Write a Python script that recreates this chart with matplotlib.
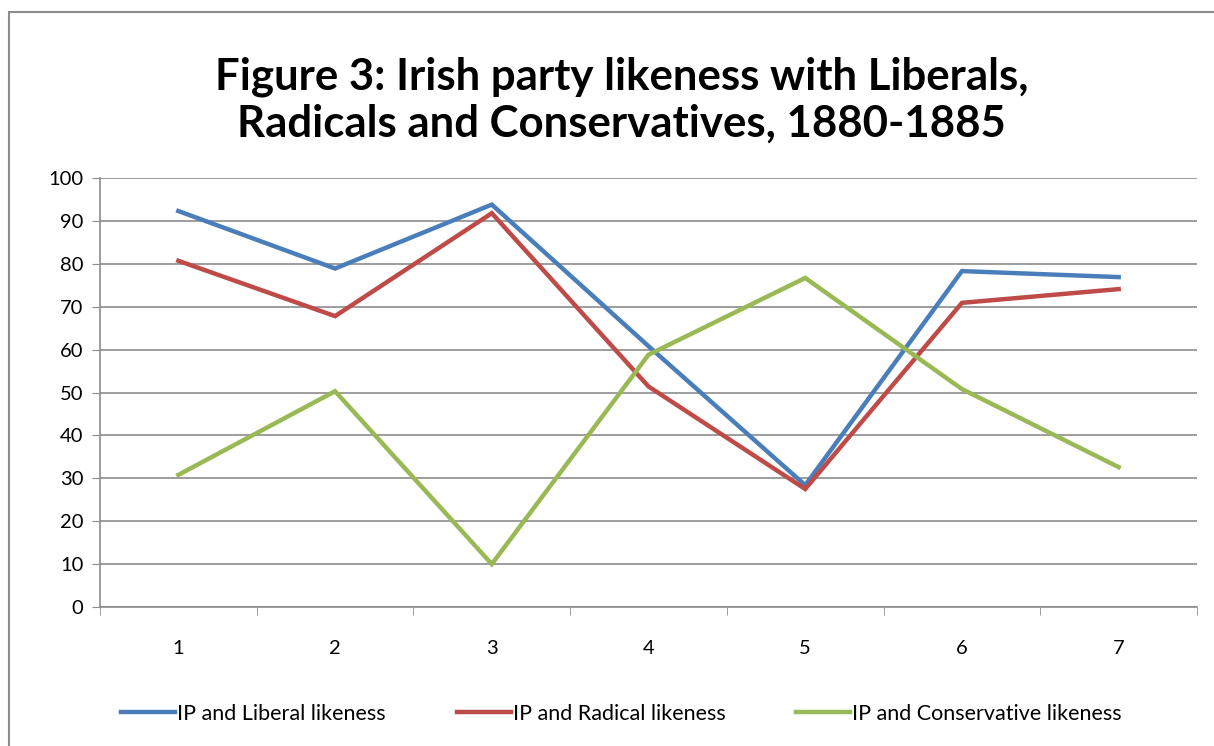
import matplotlib.pyplot as plt
from matplotlib.patches import Rectangle

plt.rcParams['font.family'] = ['Lato', 'DejaVu Sans']

periods = [1, 2, 3, 4, 5, 6, 7]
liberal = [92.3, 78.9, 93.8, 60.8, 28.4, 78.3, 76.9]
radical = [80.7, 67.8, 91.8, 51.4, 27.5, 70.9, 74.1]
conservative = [30.8, 50.3, 10.0, 58.8, 76.7, 50.8, 32.6]
series_names = ["IP and Liberal likeness", "IP and Radical likeness", "IP and Conservative likeness"]
colors = ["#4A7EBB", "#BE4B48", "#98B954"]

fig = plt.figure(figsize=(12.14, 7.46), dpi=100)
ax = fig.add_axes([100 / 1214, 1 - 607 / 746, 1097 / 1214, 429 / 746])

# outer chart border, running off the right and bottom edges
fig.patches.append(Rectangle((9 / 1214, -0.1), 1.2, 1 - 12 / 746 + 0.1, transform=fig.transFigure,
                             fill=False, edgecolor="#8c8c8c", linewidth=1.5))

for vals, name, c in zip([liberal, radical, conservative], series_names, colors):
    ax.plot(periods, vals, color=c, linewidth=3.2, label=name, solid_joinstyle="miter")

ax.set_xlim(0.5, 7.5)
ax.set_ylim(0, 100)
ax.set_yticks(range(0, 101, 10))
ax.set_xticks(periods)
ax.set_xticks([p + 0.5 for p in [0] + periods], minor=True)
ax.tick_params(axis="x", which="major", length=0, pad=24, labelsize=14.5)
ax.tick_params(axis="x", which="minor", length=6, color="#8c8c8c", direction="out")
ax.tick_params(axis="y", length=6, color="#8c8c8c", labelsize=14.5, pad=6)
ax.grid(axis="y", color="#8c8c8c", linewidth=1.2)
ax.set_axisbelow(True)
for s in ["top", "right"]:
    ax.spines[s].set_visible(False)
for s in ["left", "bottom"]:
    ax.spines[s].set_color("#8c8c8c")
    ax.spines[s].set_linewidth(1.2)

fig.text(0.512, 1 - 100 / 746, "Figure 3: Irish party likeness with Liberals,\nRadicals and Conservatives, 1880-1885",
         ha="center", va="center", fontsize=31.5, fontweight="bold", linespacing=1.22)

fig.legend(loc="center", bbox_to_anchor=(0.512, 1 - 714 / 746), ncol=3, frameon=False,
           fontsize=15.5, handlelength=2.5, handletextpad=0.1, columnspacing=3.3)

fig.savefig("out.png", dpi=100)
